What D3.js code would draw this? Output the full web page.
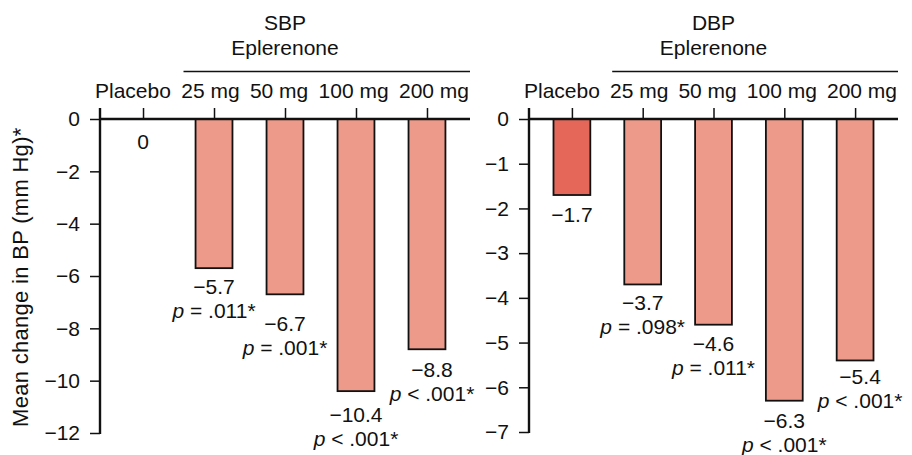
<!DOCTYPE html>
<html>
<head>
<meta charset="utf-8">
<script src="https://cdn.jsdelivr.net/npm/d3@7"></script>
<style>
  html, body { margin: 0; padding: 0; background: #fff; }
  svg { display: block; }
  text { font-family: "Liberation Sans", Arial, Helvetica, sans-serif; fill: #111; }
</style>
</head>
<body>
<svg id="chart" width="912" height="455"></svg>
<script>
// ---------- data ----------
const categories = ["Placebo", "25 mg", "50 mg", "100 mg", "200 mg"];
const sbpValues = [0, -5.7, -6.7, -10.4, -8.8];
const dbpValues = [-1.7, -3.7, -4.6, -6.3, -5.4];
const sbpPText = ["", "= .011*", "= .001*", "< .001*", "< .001*"];
const dbpPText = ["", "= .098*", "= .011*", "< .001*", "< .001*"];
const sbpTicks = [0, -2, -4, -6, -8, -10, -12];
const dbpTicks = [0, -1, -2, -3, -4, -5, -6, -7];
const panelTitles = ["SBP", "DBP"];
const groupLabel = "Eplerenone";
const yAxisLabel = "Mean change in BP (mm Hg)*";

// ---------- layout / style ----------
const FONT = 21;
const lightFill = "#ee9a8a";
const darkFill = "#e5675a";
const sbpLabelDy = [30, 26, 37, 31, 28];
const dbpLabelDy = [27, 26, 26, 27, 24];
const labelDx = [0, 0, 0, 0, 5];

const svg = d3.select("#chart");

function drawPanel(cfg) {
  const g = svg.append("g");
  const x = d3.scalePoint().domain(categories).range([cfg.x0, cfg.x1]).padding(0.606);
  const y = d3.scaleLinear().domain([d3.min(cfg.ticks), 0]).range([cfg.bottom, cfg.top]);
  const bw = x.step() * 0.52;
  const data = cfg.values.map((v, i) => ({ v, i, c: categories[i], p: cfg.pText[i] }));

  // bars
  g.selectAll("rect.bar").data(data.filter(d => d.v !== 0)).join("rect")
    .attr("class", "bar")
    .attr("x", d => x(d.c) - bw / 2)
    .attr("y", y(0))
    .attr("width", bw)
    .attr("height", d => y(d.v) - y(0))
    .attr("fill", d => d.i === 0 ? darkFill : lightFill)
    .attr("stroke", "#111")
    .attr("stroke-width", 1.8);

  // top axis ticks (category ticks pointing up)
  const top = g.append("g").attr("transform", `translate(0,${y(0)})`)
    .call(d3.axisTop(x).tickSize(11).tickFormat(""));
  top.select(".domain").remove();
  top.selectAll(".tick line").attr("stroke", "#111").attr("stroke-width", 1.5);

  // zero line
  g.append("line")
    .attr("x1", cfg.x0).attr("x2", cfg.x1)
    .attr("y1", y(0)).attr("y2", y(0))
    .attr("stroke", "#111").attr("stroke-width", 2.4);

  // y axis
  const ya = g.append("g").attr("transform", `translate(${cfg.x0},0)`)
    .call(d3.axisLeft(y).tickValues(cfg.ticks).tickSize(10).tickSizeOuter(0).tickPadding(10).tickFormat(d3.format("d")));
  ya.select(".domain").remove();
  ya.selectAll(".tick line").attr("stroke", "#111").attr("stroke-width", 1.5);
  ya.selectAll(".tick text")
    .attr("font-size", FONT)
    .attr("font-family", "'Liberation Sans', Arial, sans-serif")
    .attr("fill", "#111");
  g.append("line")
    .attr("x1", cfg.x0).attr("x2", cfg.x0)
    .attr("y1", y(0) - 11).attr("y2", y(d3.min(cfg.ticks)) + 1)
    .attr("stroke", "#111").attr("stroke-width", 2.4);

  // category labels laid out with equal gaps across the axis width
  const catText = g.selectAll("text.cat").data(categories).join("text")
    .attr("class", "cat")
    .attr("font-size", FONT)
    .attr("y", 98)
    .text(d => d);
  const widths = [];
  catText.each(function () { widths.push(this.getComputedTextLength()); });
  const spanL = cfg.x0 - 5, spanR = cfg.x1 - 1;
  const gap = (spanR - spanL - d3.sum(widths)) / (categories.length - 1);
  let cx = spanL;
  catText.each(function (d, i) {
    d3.select(this).attr("x", cx);
    cx += widths[i] + gap;
  });

  // header
  const mid = (cfg.x0 + cfg.x1) / 2;
  g.append("text").attr("x", mid).attr("y", 30).attr("text-anchor", "middle")
    .attr("font-size", FONT).text(cfg.title);
  g.append("text").attr("x", mid).attr("y", 55).attr("text-anchor", "middle")
    .attr("font-size", FONT).text(groupLabel);
  g.append("line")
    .attr("x1", x(categories[1]) - 30.5).attr("x2", cfg.x1)
    .attr("y1", 71.5).attr("y2", 71.5)
    .attr("stroke", "#111").attr("stroke-width", 1.3);

  // value labels
  const fmt = v => v === 0 ? "0" : d3.format(".1f")(v);
  g.selectAll("text.val").data(data).join("text")
    .attr("class", "val")
    .attr("x", d => x(d.c) + labelDx[d.i])
    .attr("y", d => y(d.v) + cfg.labelDy[d.i])
    .attr("text-anchor", "middle")
    .attr("font-size", FONT)
    .text(d => fmt(d.v));

  const pt = g.selectAll("text.pv").data(data.filter(d => d.p)).join("text")
    .attr("class", "pv")
    .attr("x", d => x(d.c) + labelDx[d.i])
    .attr("y", d => y(d.v) + cfg.labelDy[d.i] + 24)
    .attr("text-anchor", "middle")
    .attr("font-size", FONT);
  pt.append("tspan").attr("font-style", "italic").text("p");
  pt.append("tspan").text(d => " " + d.p);
}

drawPanel({ x0: 100, x1: 470, top: 119, bottom: 433, ticks: sbpTicks, values: sbpValues,
  pText: sbpPText, title: panelTitles[0], labelDy: sbpLabelDy });
drawPanel({ x0: 529, x1: 898, top: 119, bottom: 432, ticks: dbpTicks, values: dbpValues,
  pText: dbpPText, title: panelTitles[1], labelDy: dbpLabelDy });

// y axis title
svg.append("text")
  .attr("transform", "translate(28,427) rotate(-90)")
  .attr("text-anchor", "start")
  .attr("font-size", 22)
  .attr("letter-spacing", 0.3)
  .text(yAxisLabel);
</script>
</body>
</html>
